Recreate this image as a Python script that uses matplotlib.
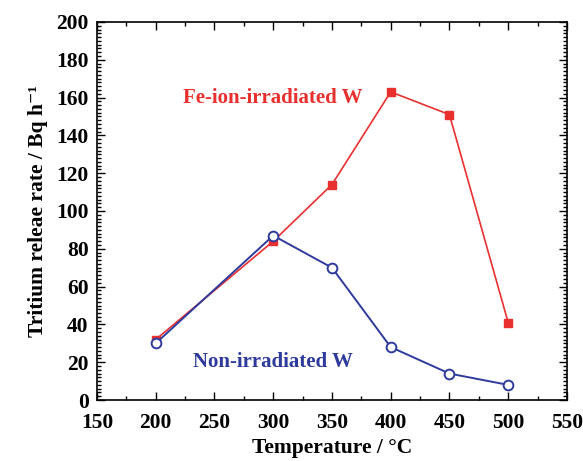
import matplotlib
matplotlib.use("Agg")
import matplotlib.pyplot as plt
from matplotlib.ticker import MultipleLocator

temps = [200, 300, 350, 400, 450, 500]
fe_irradiated = [32, 84, 114, 163, 151, 41]
non_irradiated = [30, 87, 70, 28, 14, 8]

red = "#e8302f"
blue = "#2f3b9c"

plt.rcParams["font.family"] = ["Liberation Serif", "DejaVu Serif"]
plt.rcParams["font.weight"] = "bold"

fig = plt.figure(figsize=(5.83, 4.61), dpi=100)
ax = fig.add_axes([0.1664, 0.1323, 0.806, 0.82])

ax.plot(temps, fe_irradiated, color=red, linewidth=1.2, marker="s",
        markersize=6, markerfacecolor=red, markeredgecolor=red)
ax.plot(temps, non_irradiated, color=blue, linewidth=1.4, marker="o",
        markersize=7, markerfacecolor="white", markeredgecolor=blue,
        markeredgewidth=1.4)

ax.text(300, 160, "Fe-ion-irradiated W", color=red, fontsize=15,
        fontweight="bold", ha="center", va="center")
ax.text(300, 20, "Non-irradiated W", color=blue, fontsize=15,
        fontweight="bold", ha="center", va="center")

ax.set_xlim(150, 550)
ax.set_ylim(0, 200)
ax.xaxis.set_major_locator(MultipleLocator(50))
ax.xaxis.set_minor_locator(MultipleLocator(25))
ax.yaxis.set_major_locator(MultipleLocator(20))
ax.yaxis.set_minor_locator(MultipleLocator(2))
ax.tick_params(which="both", direction="in", top=True, right=True,
               labelsize=15.5, width=1.0)
ax.tick_params(which="major", length=6)
ax.tick_params(axis="x", which="major", pad=9)
ax.tick_params(axis="y", which="major", pad=6)
ax.tick_params(which="minor", length=3)
for s in ax.spines.values():
    s.set_linewidth(1.2)

ax.set_xlabel("Temperature / °C", fontsize=15.5, fontweight="bold", labelpad=4)
ax.set_ylabel("Tritium releae rate / Bq h\u207b\u00b9", fontsize=15.5,
              fontweight="bold", labelpad=6)

fig.savefig("out.png", dpi=100)
